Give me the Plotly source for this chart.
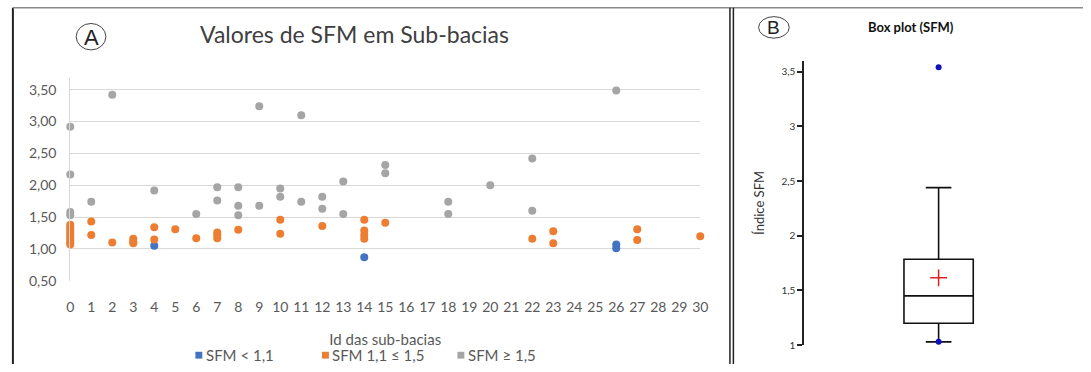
import plotly.graph_objects as go

W, H = 1091, 372


def px(x):
    return x / W


def py(y):
    return 1 - y / H


# ---- Panel A: SFM per sub-basin ----
blue_x = [4, 14, 26, 26]
blue_y = [1.05, 0.87, 1.07, 1.01]

orange_x = [0, 0, 0, 0, 0, 0, 0, 0, 0,
            1, 1, 2, 3, 3, 3, 4, 4, 5, 6, 7, 7, 7, 8,
            10, 10, 12, 14, 14, 14, 14, 15, 22, 23, 23, 27, 27, 30]
orange_y = [1.38, 1.34, 1.30, 1.26, 1.22, 1.18, 1.14, 1.10, 1.07,
            1.43, 1.22, 1.10, 1.16, 1.12, 1.09, 1.34, 1.15, 1.31, 1.17, 1.26, 1.22, 1.17, 1.30,
            1.46, 1.24, 1.36, 1.46, 1.29, 1.22, 1.16, 1.41, 1.16, 1.28, 1.09, 1.31, 1.14, 1.20]

gray_x = [0, 0, 0, 0, 1, 2, 4, 6, 7, 7, 8, 8, 8, 9, 9, 10, 10, 11, 11,
          12, 12, 13, 13, 15, 15, 18, 18, 20, 22, 22, 26]
gray_y = [2.92, 2.17, 1.58, 1.53, 1.74, 3.42, 1.92, 1.55, 1.97, 1.76, 1.97, 1.68, 1.53,
          3.24, 1.68, 1.95, 1.82, 3.10, 1.74, 1.82, 1.63, 2.06, 1.55, 2.32, 2.19,
          1.74, 1.55, 2.00, 2.42, 1.60, 3.49]

series_names = ["SFM < 1,1", "SFM 1,1 ≤ 1,5", "SFM ≥ 1,5"]
series_colors = ["#4472C4", "#ED7D31", "#A5A5A5"]

x_ticks = list(range(0, 31))
y_ticks = [0.5, 1.0, 1.5, 2.0, 2.5, 3.0, 3.5]

# ---- Panel B: box plot statistics of the SFM index ----
box_q1 = [1.20]
box_median = [1.45]
box_q3 = [1.785]
box_lower = [1.03]
box_upper = [2.44]
box_mean = [1.615]
box_extremes = [1.03, 3.54]
box_ticks = [1, 1.5, 2, 2.5, 3, 3.5]

FONT = "Lato"
TXT = "#595959"

fig = go.Figure()

for xs, ys, name, col in zip([blue_x, orange_x, gray_x], [blue_y, orange_y, gray_y],
                             series_names, series_colors):
    fig.add_trace(go.Scatter(
        x=xs, y=ys, mode="markers", name=name,
        marker=dict(color=col, size=8, line=dict(width=0)),
        cliponaxis=False, xaxis="x", yaxis="y", showlegend=False,
    ))

fig.add_trace(go.Box(
    x=[0], q1=box_q1, median=box_median, q3=box_q3,
    lowerfence=box_lower, upperfence=box_upper,
    width=0.515, whiskerwidth=0.37,
    line=dict(color="#111111", width=1.6), fillcolor="white",
    showlegend=False, xaxis="x2", yaxis="y2", hoverinfo="skip",
))
fig.add_trace(go.Scatter(
    x=[0, 0], y=box_extremes, mode="markers",
    marker=dict(color="#1010C0", size=6), showlegend=False,
    xaxis="x2", yaxis="y2", cliponaxis=False,
))
fig.add_trace(go.Scatter(
    x=[0], y=box_mean, mode="markers",
    marker=dict(symbol="cross-thin", color="#E02020", size=12,
                line=dict(color="#E02020", width=1.5)),
    showlegend=False, xaxis="x2", yaxis="y2",
))

fig.update_layout(
    width=W, height=H,
    margin=dict(l=0, r=0, t=0, b=0),
    paper_bgcolor="white", plot_bgcolor="white",
    separators=",.",
    font=dict(family=FONT, color=TXT),
    showlegend=False,
    xaxis=dict(
        domain=[px(67), px(704)], range=[0, 30],
        tickvals=x_ticks, ticktext=[str(v) for v in x_ticks],
        showgrid=False, zeroline=False, showline=False,
        tickfont=dict(size=14, color=TXT), ticklabelstandoff=16,
        title=dict(text="Id das sub-bacias", font=dict(size=15, color=TXT), standoff=20),
    ),
    yaxis=dict(
        domain=[py(287), py(80)], range=[0.5, 3.68],
        tickvals=y_ticks, tickformat=".2f",
        showgrid=True, gridcolor="#D9D9D9", gridwidth=1,
        zeroline=False, showline=True, linecolor="#D9D9D9", linewidth=1,
        tickfont=dict(size=14, color=TXT), ticklabelstandoff=10,
    ),
    xaxis2=dict(
        domain=[px(809), px(1081)], range=[-1, 1],
        visible=False,
    ),
    yaxis2=dict(
        domain=[py(352.7), py(62)], range=[1, 3.6], anchor="x2",
        tickvals=box_ticks,
        showgrid=False, zeroline=False,
        showline=True, linecolor="#222222", linewidth=1.5,
        ticks="outside", ticklen=5, tickcolor="#222222", tickwidth=1.5,
        tickfont=dict(size=10, color="#333333"),
        title=dict(text="Índice SFM", font=dict(size=13, color="#333333"), standoff=14),
    ),
)

annotations = [
    dict(text="Valores de SFM em Sub-bacias", x=px(354), y=py(35),
         font=dict(size=23, color="#404040", family=FONT), xanchor="center"),
    dict(text="A", x=px(88), y=py(38), font=dict(size=22, color="#222222", family="Liberation Sans"),
         xanchor="center"),
    dict(text="B", x=px(778), y=py(28), font=dict(size=19, color="#222222", family="Liberation Sans"),
         xanchor="center"),
    dict(text="<b>Box plot (SFM)</b>", x=px(917), y=py(28),
         font=dict(size=13, color="#111111", family=FONT), xanchor="center"),
]

shapes = [
    # outer frame and panel divider
    dict(type="line", x0=px(9), x1=px(9), y0=py(8), y1=py(372), line=dict(color="#222222", width=2)),
    dict(type="line", x0=px(9), x1=px(1091), y0=py(8), y1=py(8), line=dict(color="#8A8A8A", width=1.5)),
    dict(type="line", x0=px(734), x1=px(734), y0=py(8), y1=py(372), line=dict(color="#222222", width=1.5)),
    dict(type="line", x0=px(737.5), x1=px(737.5), y0=py(8), y1=py(372), line=dict(color="#222222", width=1.5)),
    # panel letter circles
    dict(type="circle", x0=px(73), x1=px(103), y0=py(51), y1=py(24), line=dict(color="#444444", width=1)),
    dict(type="circle", x0=px(763), x1=px(794), y0=py(39), y1=py(17), line=dict(color="#444444", width=1)),
]

# legend row under panel A: colour key + series label
legend_key_x = [197, 325, 462]
legend_y = 363
for kx, name, col in zip(legend_key_x, series_names, series_colors):
    shapes.append(dict(type="rect", x0=px(kx - 3.5), x1=px(kx + 3.5),
                       y0=py(legend_y + 3.5), y1=py(legend_y - 3.5),
                       fillcolor=col, line=dict(width=0)))
    annotations.append(dict(text=name, x=px(kx + 5), y=py(legend_y), xanchor="left",
                            font=dict(size=15, color=TXT, family=FONT)))

for a in annotations:
    a.update(xref="paper", yref="paper", showarrow=False, yanchor="middle")
for s in shapes:
    s.update(xref="paper", yref="paper")
fig.update_layout(annotations=annotations, shapes=shapes)

fig.write_html("out.html")
